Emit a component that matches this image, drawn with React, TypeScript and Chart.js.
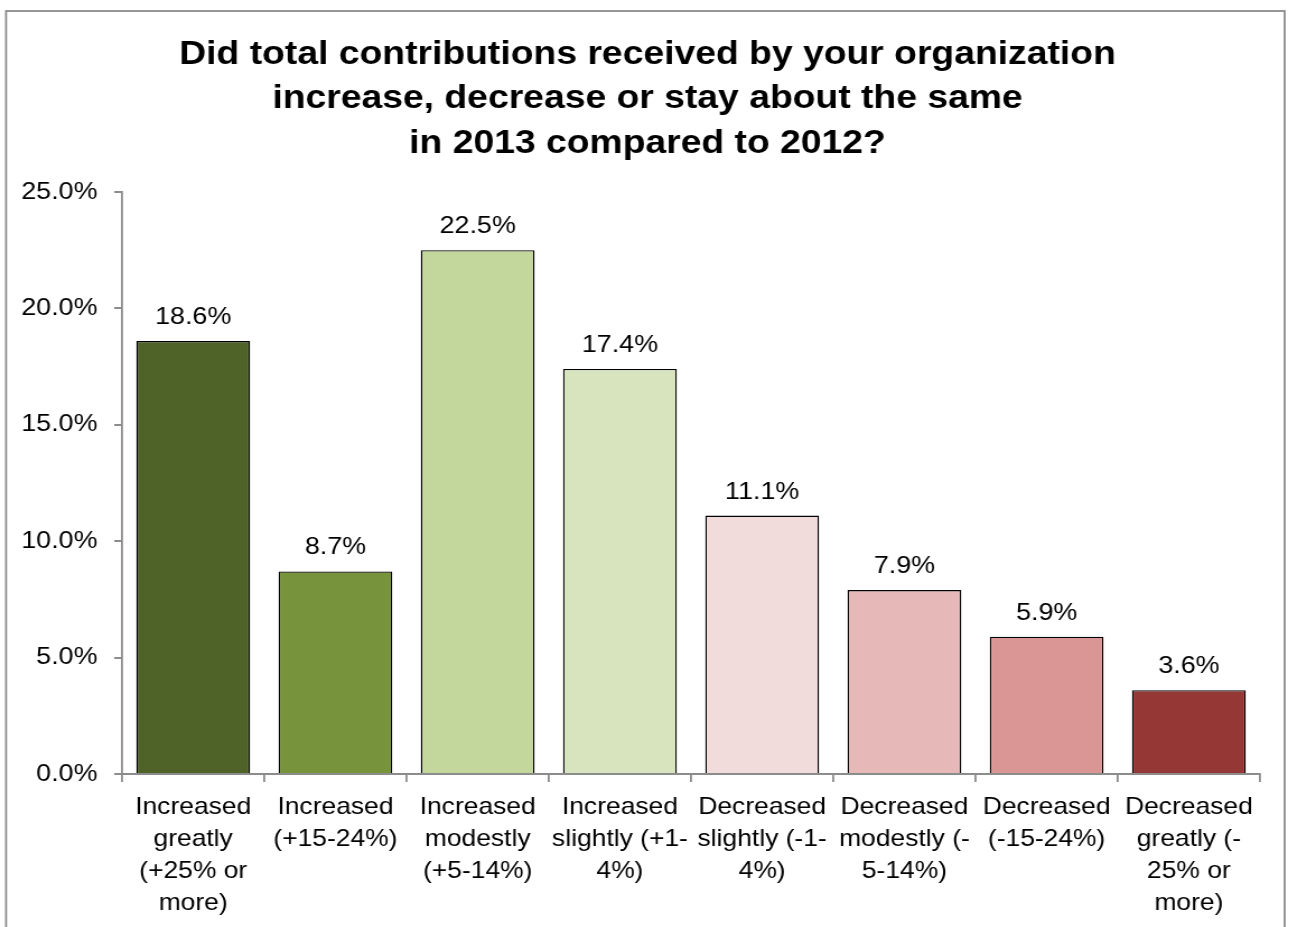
import React, { useEffect, useRef } from "react";
import { Chart, registerables } from "chart.js";

Chart.register(...registerables);

const titleLines = [
  "Did total contributions received by your organization",
  "increase, decrease or stay about the same",
  "in 2013 compared to 2012?",
];

const categories: string[][] = [
  ["Increased", "greatly", "(+25% or", "more)"],
  ["Increased", "(+15-24%)"],
  ["Increased", "modestly", "(+5-14%)"],
  ["Increased", "slightly (+1-", "4%)"],
  ["Decreased", "slightly (-1-", "4%)"],
  ["Decreased", "modestly (-", "5-14%)"],
  ["Decreased", "(-15-24%)"],
  ["Decreased", "greatly (-", "25% or", "more)"],
];

const values = [18.6, 8.7, 22.5, 17.4, 11.1, 7.9, 5.9, 3.6];

const barColors = [
  "#4F6228",
  "#77933C",
  "#C3D69B",
  "#D7E4BD",
  "#F2DCDB",
  "#E6B9B8",
  "#D99694",
  "#953735",
];

const FONT = "'Liberation Sans', Arial, Helvetica, sans-serif";

// horizontal stretch of the rendered canvas (reference glyphs are wider than Arial)
const SX = 1.12;
const W = Math.round(1291 / SX);
const H = 927;

const framePlugin = {
  id: "frame",
  beforeDraw(chart: any) {
    const ctx = chart.ctx;
    ctx.save();
    ctx.fillStyle = "#ffffff";
    ctx.fillRect(0, 0, chart.width, chart.height);
    ctx.strokeStyle = "#8c8c8c";
    ctx.lineWidth = 1.8;
    ctx.strokeRect(5.4, 11, 1141.6, 1000);
    ctx.fillStyle = "#000000";
    ctx.font = `bold 33.3px ${FONT}`;
    ctx.textAlign = "center";
    ctx.textBaseline = "alphabetic";
    const baselines = [64, 108, 153];
    titleLines.forEach((t, i) => ctx.fillText(t, 647.5 / SX, baselines[i]));
    ctx.restore();
  },
};

const labelPlugin = {
  id: "barLabels",
  afterDatasetsDraw(chart: any) {
    const ctx = chart.ctx;
    const meta = chart.getDatasetMeta(0);
    ctx.save();
    ctx.fillStyle = "#000000";
    ctx.font = `24px ${FONT}`;
    ctx.textAlign = "center";
    ctx.textBaseline = "alphabetic";
    meta.data.forEach((el: any, i: number) => {
      ctx.fillText(values[i].toFixed(1) + "%", el.x, el.y - 17);
    });
    ctx.restore();
  },
};

export default function App() {
  const ref = useRef<HTMLCanvasElement | null>(null);
  useEffect(() => {
    if (!ref.current) return;
    const chart = new Chart(ref.current, {
      type: "bar",
      data: {
        labels: categories,
        datasets: [
          {
            data: values,
            backgroundColor: barColors,
            borderColor: "#000000",
            borderWidth: 1.4,
            barPercentage: 0.8,
            categoryPercentage: 1,
          },
        ],
      },
      options: {
        responsive: false,
        animation: false,
        devicePixelRatio: 1,
        layout: { padding: { top: 192, right: W - Math.round(1260 / SX), bottom: 0, left: 0 } },
        plugins: {
          legend: { display: false },
          title: { display: false },
          tooltip: { enabled: false },
        },
        scales: {
          x: {
            afterFit: (s: any) => {
              s.height = 153;
            },
            grid: {
              display: true,
              drawOnChartArea: false,
              drawTicks: true,
              tickLength: 8,
              color: "#8c8c8c",
              lineWidth: 1.8,
              offset: true,
            },
            border: { color: "#8c8c8c", width: 2 },
            ticks: {
              color: "#000000",
              font: { family: FONT, size: 23.6, lineHeight: 32 / 23.6 },
              padding: 9,
              maxRotation: 0,
              autoSkip: false,
            },
          },
          y: {
            min: 0,
            max: 25,
            afterFit: (s: any) => {
              s.width = Math.round(122 / SX);
            },
            grid: {
              display: true,
              drawOnChartArea: false,
              drawTicks: true,
              tickLength: 7,
              color: "#8c8c8c",
              lineWidth: 2,
            },
            border: { color: "#8c8c8c", width: 1.8 },
            ticks: {
              stepSize: 5,
              color: "#000000",
              font: { family: FONT, size: 24 },
              padding: 15,
              callback: (v: any) => Number(v).toFixed(1) + "%",
            },
          },
        },
      },
      plugins: [framePlugin, labelPlugin],
    });
    return () => chart.destroy();
  }, []);
  return (
    <div style={{ position: "absolute", left: 0, top: 0, width: 1291, height: 927, overflow: "hidden" }}>
      <div style={{ width: W, height: H, transform: `scaleX(${SX})`, transformOrigin: "0 0" }}>
        <canvas ref={ref} width={W} height={H} style={{ display: "block", width: W, height: H }} />
      </div>
    </div>
  );
}
